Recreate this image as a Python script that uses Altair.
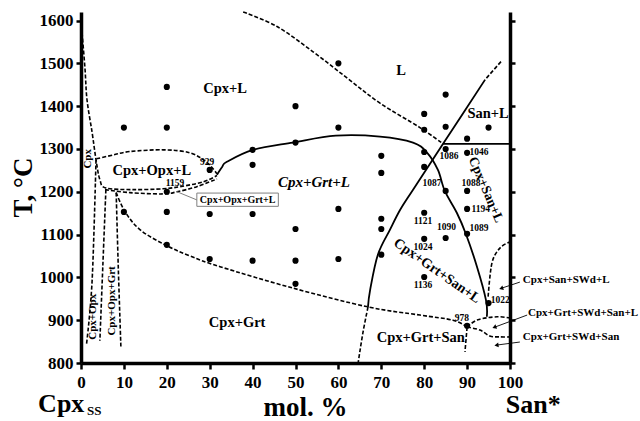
import math
import altair as alt
import pandas as pd

FONT = "Liberation Serif"

X_TICKS = list(range(0, 101, 10))
T_TICKS = list(range(800, 1601, 100))

# experimental runs (mol.% San*, T in C)
run_x = [10, 20, 20, 50, 60, 60, 40, 40, 50, 70, 70, 80, 80, 80, 80, 85, 85, 90, 95, 85, 90,
         85, 90, 90, 80, 85, 90, 80, 80, 95, 90,
         30, 40, 60, 70, 70, 50, 30, 40, 50, 60, 70, 50, 10, 20, 20, 20, 30]
run_t = [1350, 1350, 1445, 1400, 1500, 1350, 1298, 1263, 1315, 1284, 1244, 1382, 1345, 1293, 1258,
         1427, 1352, 1324, 1350, 1300, 1291,
         1202, 1202, 1160, 1151, 1092, 1102, 1090, 1001, 940, 887,
         1148, 1148, 1160, 1137, 1113, 1113, 1043, 1039, 1039, 1043, 1053, 985, 1153, 1153, 1076, 1200, 1251]

# run numbers
num_text = ["929", "1159", "1086", "1046", "1087", "1088", "1194", "1121", "1090", "1089",
            "1024", "1136", "1022", "978"]
num_x = [29.4, 21.9, 85.8, 92.8, 81.8, 90.9, 93.2, 79.7, 85.2, 92.8, 79.7, 79.7, 97.7, 88.8]
num_t = [1270, 1221, 1284, 1293, 1221, 1221, 1160, 1132, 1118, 1116, 1071, 982, 947, 905]

# dashed phase boundaries
cpx_liq_x = [0.0, 0.9, 1.4, 2.6, 3.5, 4.4, 5.8, 12.1, 19.1, 23.1, 28.4, 31.7]
cpx_liq_t = [1600, 1492, 1415, 1338, 1275, 1228, 1209, 1205, 1207, 1212, 1223, 1238]
band_lo_x = [5.6, 11.4, 19.1, 22.4, 27.0, 31.7]
band_lo_t = [1205, 1198, 1195, 1200, 1212, 1230]
opx_top_x = [3.6, 7.5, 11.4, 19.1, 25.4, 29.4, 31.7]
opx_top_t = [1277, 1286, 1294, 1298, 1291, 1268, 1242]
v1_x = [3.5, 2.6, 1.3]
v1_t = [1275, 994, 845]
v2_x = [5.8, 5.1, 4.4]
v2_t = [1205, 1030, 852]
v3_x = [8.2, 8.7, 9.3]
v3_t = [1198, 1020, 837]
sol_x = [8.2, 10.3, 13.8, 19.6, 25.4, 32.4, 49.4, 66.9, 79.0, 86.7, 90.0]
sol_t = [1198, 1153, 1111, 1076, 1050, 1025, 975, 931, 912, 900, 884]
lliq_x = [37.8, 45.7, 54.1, 62.0, 69.7, 79.0, 84.4]
lliq_t = [1620, 1586, 1527, 1466, 1407, 1350, 1312]
san_top_x = [97.9, 94.2]
san_top_t = [1504, 1462]
san_bot_x = [66.9, 65.7, 64.6]
san_bot_t = [931, 870, 800]
swd_x = [94.9, 95.8, 97.7, 100.0]
swd_t = [955, 1034, 1069, 1083]
arc_up_x = [90.0, 92.5, 97.0, 100.0]
arc_up_t = [884, 901, 908, 905]
arc_lo_x = [90.0, 93.0, 95.3, 97.6, 100.0]
arc_lo_t = [884, 877, 863, 861, 861]
v978_x = [90.0, 89.5]
v978_t = [884, 826]

# solid phase boundaries
arc_x = [31.7, 32.9, 34.0, 40.1, 49.4, 59.4, 69.7, 77.4, 80.7, 83.2, 84.8, 87.6, 89.7, 92.3, 94.4, 94.6]
arc_t = [1240, 1258, 1270, 1298, 1315, 1331, 1329, 1315, 1291, 1251, 1202, 1151, 1102, 1025, 947, 908]
san_x = [94.2, 84.4, 77.4, 74.4, 72.0, 69.2, 67.4, 66.9]
san_t = [1462, 1312, 1205, 1158, 1111, 1053, 971, 931]
hz_x = [84.4, 100.0]
hz_t = [1312, 1312]

# field labels
region_label = ["Cpx+L", "L", "San+L", "Cpx+Opx+L", "Cpx+Grt", "Cpx+Grt+San"]
region_x = [33.6, 74.6, 94.9, 16.5, 36.4, 79.2]
region_t = [1439, 1483, 1382, 1249, 894, 858]

vert_label = ["Cpx", "Cpx+Opx", "Cpx+Opx+Grt"]
vert_x = [1.6, 2.8, 7.2]
vert_t = [1277, 908, 945]

# boxed label
box_label = ["Cpx+Opx+Grt+L"]
box_x = [27.0]
box_x2 = [46.0]
box_t = [1166]
box_t2 = [1197]
lead_x = [22.4]
lead_x2 = [27.0]
lead_t = [1200]
lead_t2 = [1181]

# arrow labels
arr_label = ["Cpx+San+SWd+L", "Cpx+Grt+SWd+San+L", "Cpx+Grt+SWd+San"]
arr_lx = [103.0, 104.2, 103.0]
arr_lt = [994, 917, 861]
arr_x0 = [102.3, 104.0, 102.3]
arr_t0 = [989, 912, 849]
arr_x1 = [98.1, 96.5, 97.0]
arr_t1 = [975, 884, 842]

W, H = 429, 351
xs = alt.Scale(domain=[0, 100], nice=False, zero=False)
ys = alt.Scale(domain=[800, 1620], nice=False, zero=False)


def curve(name, cx, ct):
    return pd.DataFrame({"x": cx, "t": ct, "curve": name, "seq": list(range(len(cx)))})


dashed_df = pd.concat([
    curve("cpx_liq", cpx_liq_x, cpx_liq_t), curve("band_lo", band_lo_x, band_lo_t),
    curve("opx_top", opx_top_x, opx_top_t), curve("v1", v1_x, v1_t), curve("v2", v2_x, v2_t),
    curve("v3", v3_x, v3_t), curve("sol", sol_x, sol_t), curve("lliq", lliq_x, lliq_t),
    curve("san_top", san_top_x, san_top_t), curve("san_bot", san_bot_x, san_bot_t),
    curve("swd", swd_x, swd_t), curve("arc_up", arc_up_x, arc_up_t),
    curve("arc_lo", arc_lo_x, arc_lo_t), curve("v978", v978_x, v978_t),
], ignore_index=True)

solid_df = pd.concat([
    curve("arc", arc_x, arc_t), curve("san", san_x, san_t), curve("hz", hz_x, hz_t),
], ignore_index=True)

axis_common = dict(grid=False, domainColor="black", tickColor="black", labelColor="black",
                   labelFont=FONT, labelFontWeight="bold", labelFontSize=17, format="d",
                   labelFlush=False, labelOverlap=False, domainWidth=3.5, tickWidth=2.5,
                   titleFont=FONT, titleFontWeight="bold", titleFontSize=27, titleColor="black")

x_axis = alt.Axis(values=X_TICKS, title="mol. %", tickSize=6, labelPadding=5,
                  titleX=224, titleY=52, titleBaseline="alphabetic", titleAlign="center",
                  **axis_common)
y_axis = alt.Axis(values=T_TICKS, title="T, °C", tickSize=5, labelPadding=3,
                  titleAngle=270, titleX=-50, titleY=175, titleBaseline="alphabetic",
                  titleAlign="center", **axis_common)
y_axis_r = alt.Axis(values=T_TICKS, orient="right", labels=False, title=None, tickSize=5,
                    grid=False, domainColor="black", tickColor="black", domainWidth=3.5,
                    tickWidth=2.5)

X = alt.X("x:Q", scale=xs, axis=x_axis)
Yn = alt.Y("t:Q", scale=ys, axis=None)

runs_df = pd.DataFrame({"x": run_x, "t": run_t})
points = alt.Chart(runs_df).mark_circle(size=38, color="black", opacity=1).encode(
    x=X, y=alt.Y("t:Q", scale=ys, axis=y_axis))

solid = alt.Chart(solid_df).mark_line(color="black", strokeWidth=1.8, interpolate="cardinal").encode(
    x=X, y=alt.Y("t:Q", scale=ys, axis=y_axis_r), detail="curve:N", order="seq:Q")

dashed = alt.Chart(dashed_df).mark_line(color="black", strokeWidth=1.6, strokeDash=[4, 2],
                                        interpolate="cardinal").encode(
    x=X, y=Yn, detail="curve:N", order="seq:Q")


def text_layer(labels, lx, lt, size, angle=0, style="normal", align="center", color="black",
               baseline="middle"):
    df = pd.DataFrame({"label": labels, "x": lx, "t": lt})
    return alt.Chart(df).mark_text(font=FONT, fontSize=size, fontWeight="bold", fontStyle=style,
                                   angle=angle, align=align, baseline=baseline, color=color).encode(
        x=X, y=Yn, text="label:N")


nums = text_layer(num_text, num_x, num_t, 9.5)
regions = text_layer(region_label, region_x, region_t, 14.5)
italic = text_layer(["Cpx+Grt+L"], [54.3], [1223], 15, style="italic")
rot1 = text_layer(["Cpx+Grt+San+L"], [83.0], [1015], 14, angle=35)
rot2 = text_layer(["Cpx+San+L"], [94.4], [1205], 13.5, angle=67)
verts = text_layer(vert_label, vert_x, vert_t, 11, angle=270)

box_df = pd.DataFrame({"x": box_x, "x2": box_x2, "t": box_t, "t2": box_t2})
box = alt.Chart(box_df).mark_rect(fill="white", stroke="#808080", strokeWidth=1).encode(
    x=X, x2="x2:Q", y=Yn, y2="t2:Q")
lead_df = pd.DataFrame({"x": lead_x, "x2": lead_x2, "t": lead_t, "t2": lead_t2})
lead = alt.Chart(lead_df).mark_rule(color="#808080", strokeWidth=1).encode(
    x=X, x2="x2:Q", y=Yn, y2="t2:Q")
box_text = text_layer(box_label, [(box_x[0] + box_x2[0]) / 2], [(box_t[0] + box_t2[0]) / 2], 10)

sx, sy = W / 100.0, H / 820.0
arr_ang = []
for a, b, c, d in zip(arr_x0, arr_t0, arr_x1, arr_t1):
    dx = (c - a) * sx
    dy = -(d - b) * sy
    arr_ang.append(math.degrees(math.atan2(dx, -dy)) % 360)
arr_df = pd.DataFrame({"x": arr_x0, "x2": arr_x1, "t": arr_t0, "t2": arr_t1})
head_df = pd.DataFrame({"x": arr_x1, "t": arr_t1, "ang": arr_ang})
arr_lines = alt.Chart(arr_df).mark_rule(color="black", strokeWidth=0.9).encode(
    x=X, x2="x2:Q", y=Yn, y2="t2:Q")
arr_heads = alt.Chart(head_df).mark_point(shape="triangle", filled=True, size=22, color="black",
                                          opacity=1).encode(
    x=X, y=Yn, angle=alt.Angle("ang:Q", scale=None))
arr_text = text_layer(arr_label, arr_lx, arr_lt, 11, align="left")

cpx_title = text_layer(["Cpx"], [-10.0], [685], 26, align="left", baseline="alphabetic")
cpx_sub = text_layer(["SS"], [1.4], [678], 13, align="left", baseline="alphabetic")
san_title = text_layer(["San*"], [99.0], [683], 26, align="left", baseline="alphabetic")

chart = alt.layer(
    points, solid, dashed, box, lead, box_text, nums, regions, italic, rot1, rot2, verts,
    arr_lines, arr_heads, arr_text, cpx_title, cpx_sub, san_title,
).resolve_axis(y="independent").properties(
    width=W, height=H,
    autosize=alt.AutoSizeParams(type="none"),
    padding={"left": 81, "top": 12, "right": 130, "bottom": 58},
    background="white",
).configure_view(stroke=None)

chart.save("out.html", embed_options={"renderer": "svg", "actions": False})
